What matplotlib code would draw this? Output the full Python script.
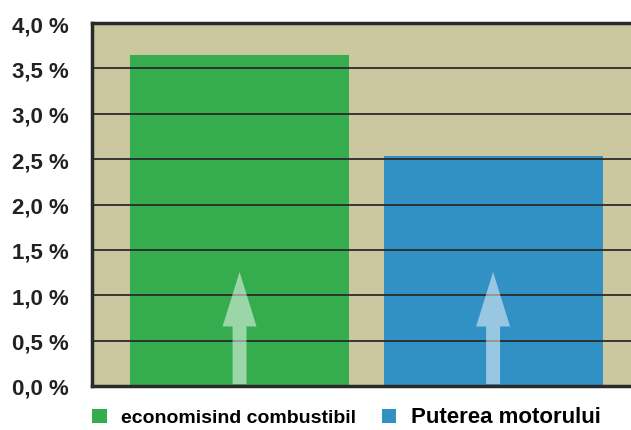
import matplotlib.pyplot as plt
from matplotlib.patches import FancyArrow

categories = ["economisind combustibil", "Puterea motorului"]
values = [3.65, 2.53]
colors = ["#35ad4f", "#3190c4"]
ticks = [0.0, 0.5, 1.0, 1.5, 2.0, 2.5, 3.0, 3.5, 4.0]
tick_labels = ["0,0 %", "0,5 %", "1,0 %", "1,5 %", "2,0 %", "2,5 %", "3,0 %", "3,5 %", "4,0 %"]

plt.rcParams['font.family'] = ['Liberation Sans', 'DejaVu Sans']

fig = plt.figure(figsize=(6.31, 4.31), dpi=100)
ax = fig.add_axes([92 / 631, 1 - 387 / 431, 1 - 92 / 631, (387 - 24) / 431])
ax.set_facecolor("#cbc89f")

x = list(range(len(values)))
bars = ax.bar(x, values, width=0.864, color=colors, zorder=2)

# light arrows inside the bars
for xi in x:
    ax.add_patch(FancyArrow(xi, 0.02, 0, 1.236, width=0.055, head_width=0.134,
                            head_length=0.6, length_includes_head=True,
                            color="white", alpha=0.5, lw=0, zorder=3))

ax.set_xlim(-0.582, 1.544)
ax.set_ylim(0, 4.0)
ax.set_yticks(ticks)
ax.set_yticklabels(tick_labels, fontsize=16, fontweight="bold", color="#222222")
ax.set_xticks([])
ax.tick_params(axis="y", length=0, pad=17)

ax.grid(axis="y", color="#2b2b2b", linewidth=1.3, zorder=4)
ax.set_axisbelow(False)
for s in ["left", "bottom", "top"]:
    ax.spines[s].set_linewidth(2.5)
    ax.spines[s].set_color("#2a2a2a")
    ax.spines[s].set_zorder(5)
ax.spines["right"].set_visible(False)

leg = ax.legend(bars, categories, loc="upper left", bbox_to_anchor=(-0.032, -0.008),
                ncol=2, frameon=False, handlelength=0.75, handleheight=0.75,
                handletextpad=0.75, columnspacing=1.3,
                prop={"size": 14, "weight": "bold"})
leg.get_texts()[1].set_fontsize(16)

fig.savefig("out.png", dpi=100)
